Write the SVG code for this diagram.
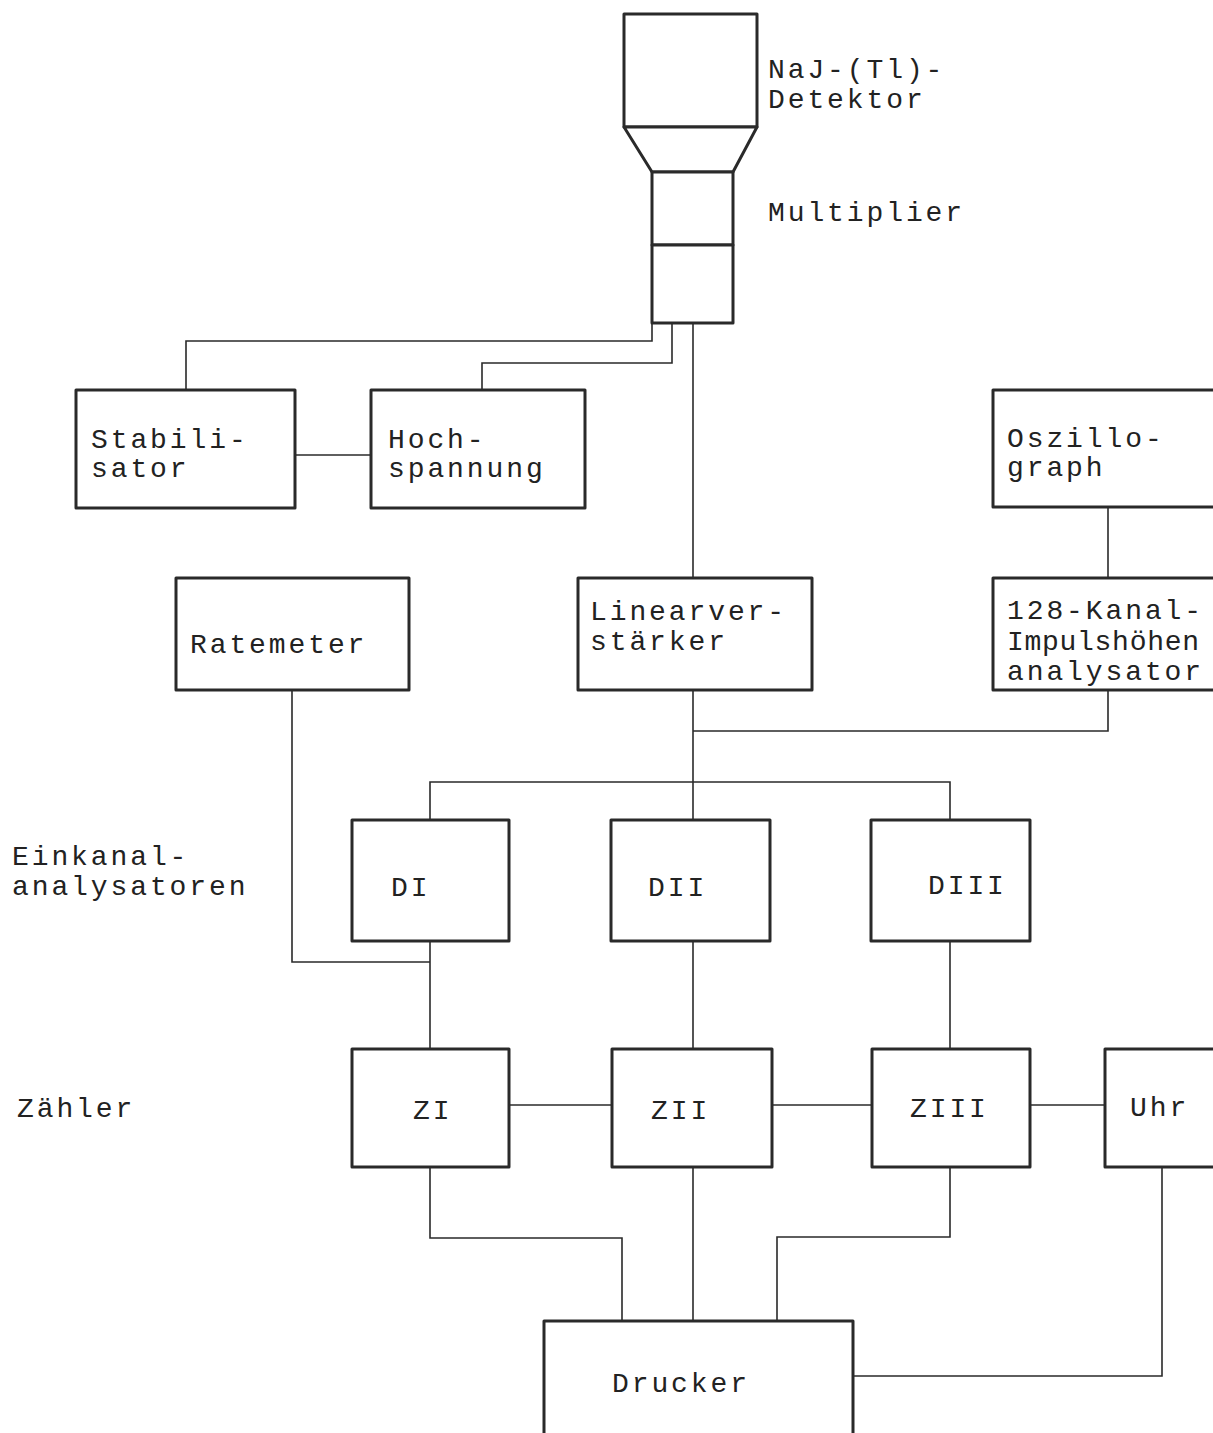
<svg xmlns="http://www.w3.org/2000/svg" width="1213" height="1433" viewBox="0 0 1213 1433">
<style>
.box{fill:#fff;stroke:#2a2a2a;stroke-width:3;stroke-linejoin:round}
.ln{fill:none;stroke:#2a2a2a;stroke-width:1.6}
text{font-family:"Liberation Mono","DejaVu Sans Mono",monospace;font-size:28px;letter-spacing:2.9px;fill:#222}
text.tight{letter-spacing:0}
</style>
<rect width="1213" height="1433" fill="#fff"/>
<g id="connectors">
<polyline class="ln" points="652,323 652,341 186,341 186,390"/>
<polyline class="ln" points="672,323 672,363 482,363 482,390"/>
<polyline class="ln" points="693,323 693,578"/>
<polyline class="ln" points="295,455 371,455"/>
<polyline class="ln" points="1108,507 1108,578"/>
<polyline class="ln" points="1108,690 1108,731 693,731"/>
<polyline class="ln" points="693,690 693,820"/>
<polyline class="ln" points="430,820 430,782 950,782 950,820"/>
<polyline class="ln" points="292,690 292,962 430,962"/>
<polyline class="ln" points="430,941 430,1049"/>
<polyline class="ln" points="693,941 693,1049"/>
<polyline class="ln" points="950,941 950,1049"/>
<polyline class="ln" points="509,1105 612,1105"/>
<polyline class="ln" points="772,1105 872,1105"/>
<polyline class="ln" points="1030,1105 1105,1105"/>
<polyline class="ln" points="430,1167 430,1238 622,1238 622,1321"/>
<polyline class="ln" points="693,1167 693,1321"/>
<polyline class="ln" points="950,1167 950,1237 777,1237 777,1321"/>
<polyline class="ln" points="1162,1167 1162,1376 853,1376"/>
</g>
<g id="detektor">
<rect class="box" x="624" y="14" width="133" height="113"/>
<polygon class="box" points="624,127 757,127 733,172 652,172"/>
<text x="768" y="78">NaJ-(Tl)-</text>
<text x="768" y="108">Detektor</text>
</g>
<g id="multiplier">
<rect class="box" x="652" y="172" width="81" height="73"/>
<rect class="box" x="652" y="245" width="81" height="78"/>
<text x="768" y="221">Multiplier</text>
</g>
<g id="stabilisator">
<rect class="box" x="76" y="390" width="219" height="118"/>
<text x="91" y="448">Stabili-</text>
<text x="91" y="477">sator</text>
</g>
<g id="hochspannung">
<rect class="box" x="371" y="390" width="214" height="118"/>
<text x="388" y="448">Hoch-</text>
<text x="388" y="477">spannung</text>
</g>
<g id="oszillograph">
<rect class="box" x="993" y="390" width="222" height="117"/>
<text x="1007" y="447">Oszillo-</text>
<text x="1007" y="476">graph</text>
</g>
<g id="kanal128">
<rect class="box" x="993" y="578" width="222" height="112"/>
<text x="1007" y="619">128-Kanal-</text>
<text class="tight" x="1007" y="650" textLength="192" lengthAdjust="spacing">Impulshöhen</text>
<text x="1007" y="680">analysator</text>
</g>
<g id="ratemeter">
<rect class="box" x="176" y="578" width="233" height="112"/>
<text x="190" y="653">Ratemeter</text>
</g>
<g id="linearverstaerker">
<rect class="box" x="578" y="578" width="234" height="112"/>
<text x="590" y="620">Linearver-</text>
<text x="590" y="650">stärker</text>
</g>
<g id="einkanal-label">
<text x="12" y="865">Einkanal-</text>
<text x="12" y="895">analysatoren</text>
</g>
<g id="DI">
<rect class="box" x="352" y="820" width="157" height="121"/>
<text x="391" y="896">DI</text>
</g>
<g id="DII">
<rect class="box" x="611" y="820" width="159" height="121"/>
<text x="648" y="896">DII</text>
</g>
<g id="DIII">
<rect class="box" x="871" y="820" width="159" height="121"/>
<text x="928" y="894">DIII</text>
</g>
<g id="zaehler-label">
<text x="17" y="1117">Zähler</text>
</g>
<g id="ZI">
<rect class="box" x="352" y="1049" width="157" height="118"/>
<text x="413" y="1119">ZI</text>
</g>
<g id="ZII">
<rect class="box" x="612" y="1049" width="160" height="118"/>
<text x="651" y="1119">ZII</text>
</g>
<g id="ZIII">
<rect class="box" x="872" y="1049" width="158" height="118"/>
<text x="910" y="1117">ZIII</text>
</g>
<g id="uhr">
<rect class="box" x="1105" y="1049" width="112" height="118"/>
<text x="1130" y="1116">Uhr</text>
</g>
<g id="drucker">
<rect class="box" x="544" y="1321" width="309" height="120"/>
<text x="612" y="1392">Drucker</text>
</g>
</svg>
